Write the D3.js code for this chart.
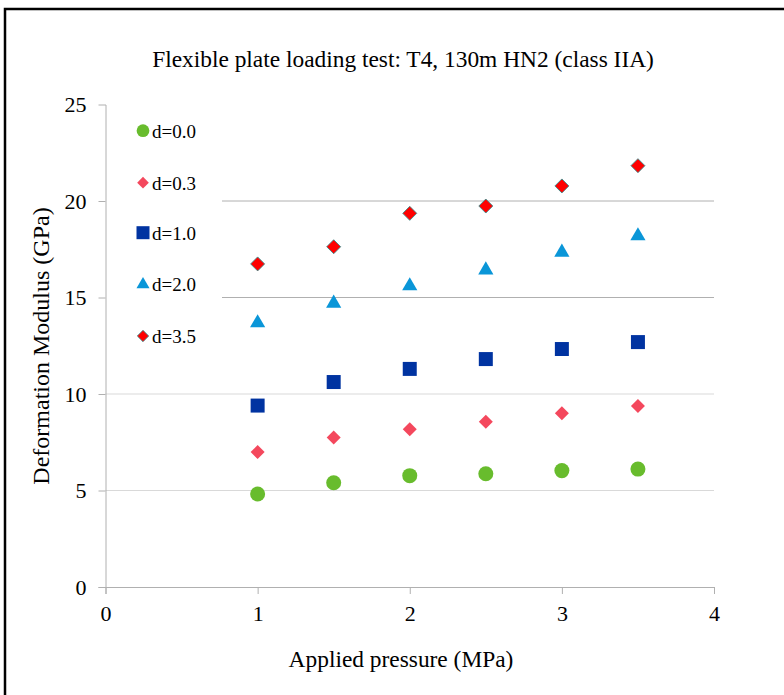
<!DOCTYPE html>
<html><head><meta charset="utf-8">
<script src="https://cdn.jsdelivr.net/npm/d3@7"></script>
<style>body{margin:0;background:#fff}svg{display:block}</style>
</head><body>
<script>
const pressures = [1, 1.5, 2, 2.5, 3, 3.5];
const seriesNames = ["d=0.0", "d=0.3", "d=1.0", "d=2.0", "d=3.5"];
const d00 = [4.82, 5.40, 5.77, 5.87, 6.03, 6.11];
const d03 = [6.99, 7.74, 8.17, 8.56, 9.00, 9.38];
const d10 = [9.40, 10.62, 11.30, 11.81, 12.33, 12.69];
const d20 = [13.68, 14.70, 15.60, 16.42, 17.34, 18.19];
const d35 = [16.74, 17.63, 19.36, 19.74, 20.78, 21.83];
const xTicks = [0, 1, 2, 3, 4];
const yTicks = [0, 5, 10, 15, 20, 25];
const title = "Flexible plate loading test: T4, 130m HN2 (class IIA)";
const xTitle = "Applied pressure (MPa)";
const yTitle = "Deformation Modulus (GPa)";

const W = 784, H = 695;
const svg = d3.select("body").append("svg").attr("width", W).attr("height", H);
const font = "'Liberation Serif','Times New Roman',serif";

svg.append("rect").attr("x", 5).attr("y", 9).attr("width", 900).attr("height", 900)
  .attr("fill", "none").attr("stroke", "#000").attr("stroke-width", 2.5);

const x = d3.scaleLinear().domain([0, 4]).range([105.5, 714]);
const y = d3.scaleLinear().domain([0, 25]).range([587, 104.5]);

// gridlines
const grid = svg.append("g");
[5, 10].forEach(v => grid.append("line").attr("x1", x(0)).attr("x2", x(4))
  .attr("y1", y(v)).attr("y2", y(v)).attr("stroke", "#d9d9d9").attr("stroke-width", 1));
[15, 20].forEach(v => grid.append("line").attr("x1", 222).attr("x2", x(4))
  .attr("y1", y(v)).attr("y2", y(v)).attr("stroke", "#b0b0b0").attr("stroke-width", 1));

// y axis
const yAxis = svg.append("g").attr("transform", `translate(${x(0)},0)`)
  .call(d3.axisLeft(y).tickValues(yTicks).tickSize(7).tickPadding(12).tickFormat(d3.format("d")));
yAxis.select(".domain").attr("stroke", "#b0b0b0");
yAxis.selectAll(".tick line").attr("stroke", "#b0b0b0");
yAxis.selectAll(".tick").filter(d => d === 25).select("line").remove();
yAxis.selectAll("text").attr("font-family", font).attr("font-size", 22).attr("fill", "#000");

// x axis
const xAxis = svg.append("g").attr("transform", `translate(0,${y(0)})`)
  .call(d3.axisBottom(x).tickValues(xTicks).tickSize(7).tickPadding(11).tickFormat(d3.format("d")));
xAxis.select(".domain").attr("stroke", "#b0b0b0");
xAxis.selectAll(".tick line").attr("stroke", "#b0b0b0");
xAxis.selectAll("text").attr("font-family", font).attr("font-size", 22).attr("fill", "#000");

// titles
svg.append("text").attr("x", 403).attr("y", 67).attr("text-anchor", "middle")
  .attr("font-family", font).attr("font-size", 23.4).text(title);
svg.append("text").attr("x", 401).attr("y", 667).attr("text-anchor", "middle")
  .attr("font-family", font).attr("font-size", 23.4).text(xTitle);
svg.append("text").attr("transform", "translate(49,346) rotate(-90)").attr("text-anchor", "middle")
  .attr("font-family", font).attr("font-size", 24).text(yTitle);

const square45 = d3.symbolSquare;
const styles = [
  {sym: d3.symbolCircle, size: 177, fill: "#68bc2d", stroke: "none", lsize: 127, rot: 0},
  {sym: d3.symbolSquare, size: 98, fill: "#f4485d", stroke: "none", lsize: 68, rot: 45},
  {sym: d3.symbolSquare, size: 196, fill: "#0033a1", stroke: "none", lsize: 169, rot: 0},
  {sym: d3.symbolTriangle, size: 100, fill: "#0a96d8", stroke: "none", lsize: 74, rot: 0},
  {sym: d3.symbolSquare, size: 98, fill: "#ff0000", stroke: "#2f8f8f", lsize: 64, rot: 45}
];
const allSeries = [d00, d03, d10, d20, d35];

allSeries.forEach((vals, i) => {
  const s = styles[i];
  svg.append("g").selectAll("path").data(vals).join("path")
    .attr("transform", (v, j) => `translate(${x(pressures[j])},${y(v)}) rotate(${s.rot})`)
    .attr("d", d3.symbol().type(s.sym).size(s.size))
    .attr("fill", s.fill).attr("stroke", s.stroke).attr("stroke-width", 0.8);
});

// legend
const legY = [130.7, 182.7, 232.7, 284.5, 336];
seriesNames.forEach((name, i) => {
  const s = styles[i];
  svg.append("path").attr("transform", `translate(143,${legY[i]}) rotate(${s.rot})`)
    .attr("d", d3.symbol().type(s.sym).size(s.lsize))
    .attr("fill", s.fill).attr("stroke", s.stroke).attr("stroke-width", 0.8);
  svg.append("text").attr("x", 152).attr("y", legY[i] + 6.8)
    .attr("font-family", font).attr("font-size", 19).text(name);
});
</script>
</body></html>
